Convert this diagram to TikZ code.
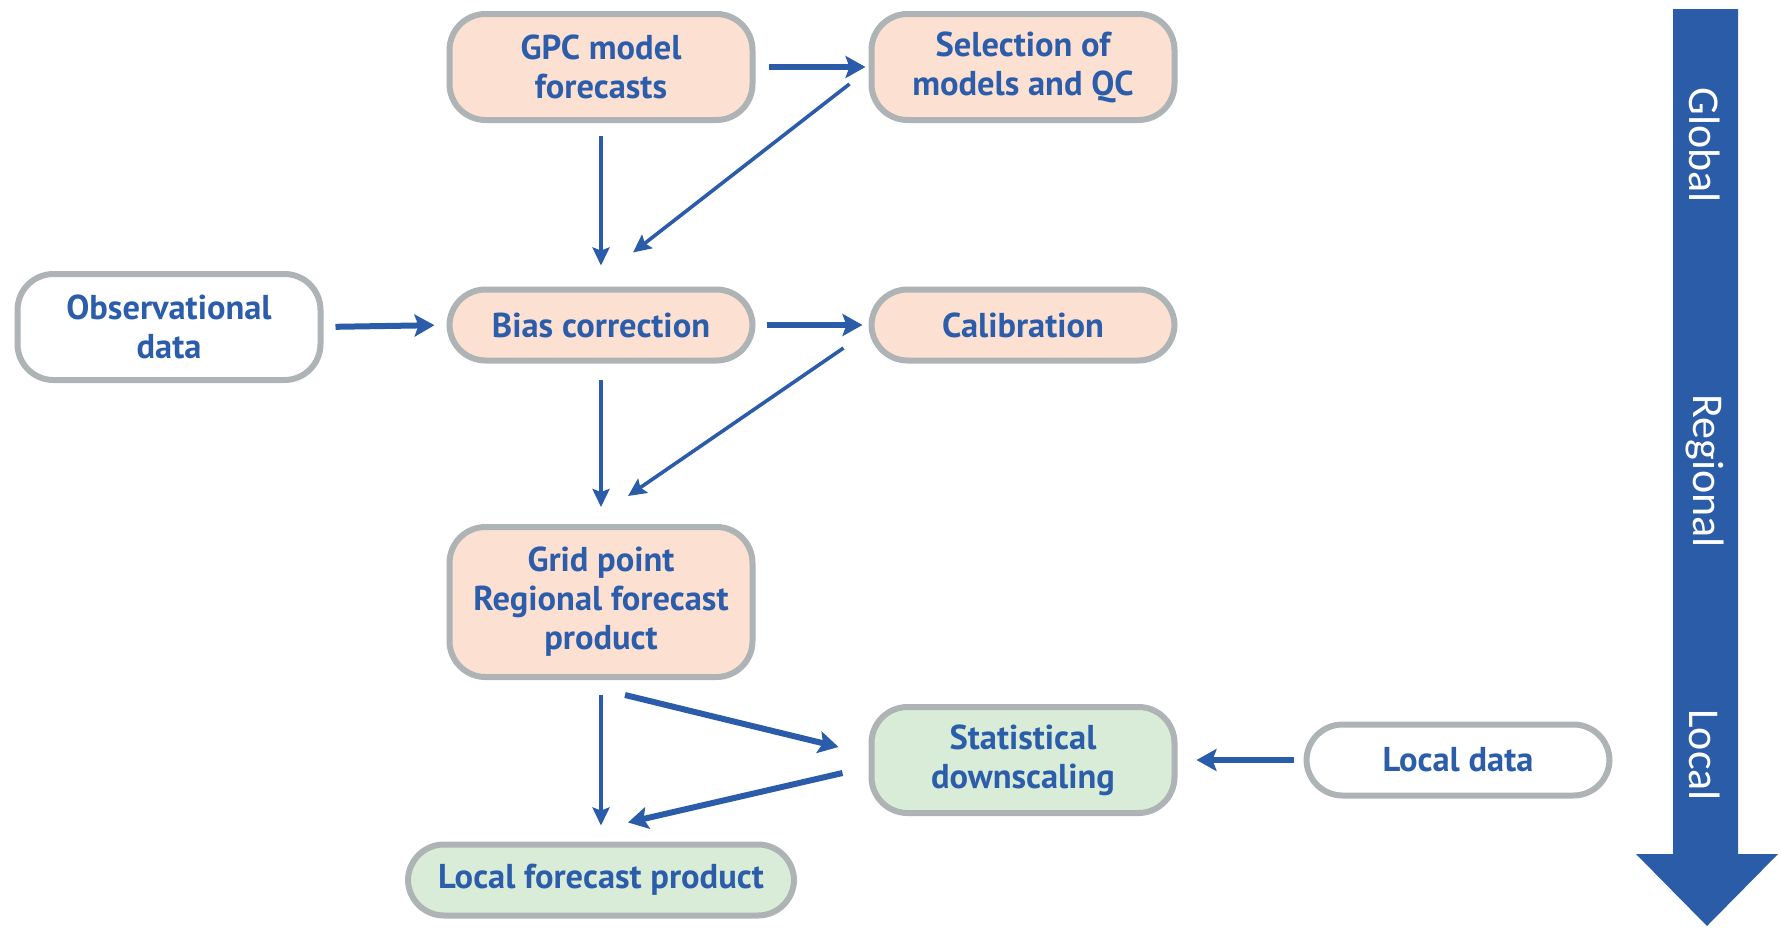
\documentclass[tikz,border=0pt]{standalone}
\usepackage{fontspec}
\setmainfont{PT Sans}
\newfontfamily\sidefont{Carlito}
\usetikzlibrary{arrows.meta,calc}
\definecolor{txtblue}{HTML}{2C5DAA}
\definecolor{arrblue}{HTML}{2A5CAA}
\definecolor{bordergrey}{HTML}{AEB3B6}
\definecolor{peach}{HTML}{FCE0D1}
\definecolor{mint}{HTML}{D9ECD7}
\definecolor{bigblue}{HTML}{2A5CA8}
\begin{document}
\begin{tikzpicture}[x=1pt,y=-1pt,
  box/.style={draw=bordergrey,line width=6pt,rounded corners=36pt,
    minimum width=303pt,align=center,text=txtblue,
    font=\fontsize{34.5}{39}\selectfont\bfseries,inner sep=0pt},
  peachbox/.style={box,fill=peach},
  mintbox/.style={box,fill=mint},
  whitebox/.style={box,fill=white},
  thickarr/.style={draw=arrblue,line width=6pt,-{Stealth[length=20pt,width=22pt,inset=4pt]}},
  thinarr/.style={draw=arrblue,line width=3.6pt,-{Stealth[length=18pt,width=17pt,inset=3pt]}},
  sidelabel/.style={text=white,rotate=-90,font=\sidefont\fontsize{44}{50}\selectfont}
]
\useasboundingbox (0,0) rectangle (1781,927);

\node[peachbox,minimum height=106pt] (gpc) at (601,67) {GPC model\\forecasts};
\node[peachbox,minimum height=106pt] (sel) at (1023,67) {Selection of\\models and QC};
\node[whitebox,minimum height=106pt] (obs) at (169,327) {Observational\\data};
\node[peachbox,minimum height=71pt] (bias) at (601,325) {Bias correction};
\node[peachbox,minimum height=71pt] (cal) at (1023,325) {Calibration};
\node[peachbox,minimum height=150pt] (grid) at (601,602) {Grid point\\Regional forecast\\product};
\node[mintbox,minimum height=106pt] (stat) at (1023,760) {Statistical\\downscaling};
\node[whitebox,minimum height=71pt] (local) at (1458,760) {Local data};
\node[mintbox,minimum height=71pt,minimum width=386pt] (lfp) at (601,880) {Local forecast product};

% connectors
\draw[thickarr,shorten <=13pt,shorten >=3pt] (gpc.east) -- (sel.west);
\draw[thinarr] ($(sel.west)+(-19,17)$) -- ($(bias.north)+(32,-34)$);
\draw[thinarr,shorten <=13pt,shorten >=21pt] (gpc.south) -- (bias.north);
\draw[thickarr,shorten <=12pt,shorten >=12pt] (obs.east) -- (bias.west);
\draw[thickarr,shorten <=11pt,shorten >=6pt] (bias.east) -- (cal.west);
\draw[thinarr,shorten <=16pt,shorten >=17pt] (bias.south) -- (grid.north);
\draw[thinarr] ($(cal.west)+(-25,23)$) -- ($(grid.north)+(27,-28)$);
\draw[thinarr,shorten <=15pt,shorten >=16pt] (grid.south) -- (lfp.north);
\draw[thickarr] ($(grid.south)+(24,15)$) -- ($(stat.west)+(-30,-13)$);
\draw[thickarr] ($(stat.west)+(-26,13)$) -- ($(lfp.north)+(27,-19)$);
\draw[thickarr,shorten <=10pt,shorten >=19pt] (local.west) -- (stat.east);

% big scale arrow
\fill[bigblue] (1673,9) -- (1738,9) -- (1738,854) -- (1778,854) -- (1707,926)
  -- (1636,854) -- (1673,854) -- cycle;
\node[sidelabel] (glob) at (1705,145) {Global};
\node[sidelabel] (reg) at (1705,471) {Regional};
\node[sidelabel] (loc) at (1705,755) {Local};
\end{tikzpicture}
\end{document}
